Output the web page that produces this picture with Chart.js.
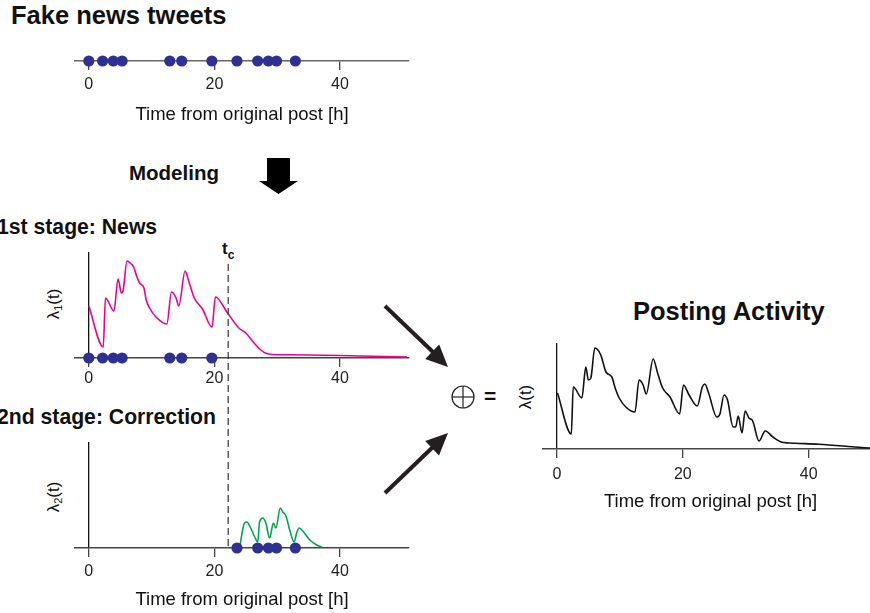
<!DOCTYPE html>
<html>
<head>
<meta charset="utf-8">
<script src="https://cdn.jsdelivr.net/npm/chart.js@4.4.0/dist/chart.umd.min.js"></script>
<style>
html, body { margin: 0; padding: 0; background: #fff; overflow: hidden; width: 870px; height: 613px; }
body { position: relative; font-family: "Liberation Sans", Arial, Helvetica, sans-serif; color: #111; }
.box { position: absolute; }
.lbl { position: absolute; white-space: nowrap; line-height: 1; }
.b { font-weight: bold; }
.ylab { position: absolute; white-space: nowrap; line-height: 1; font-size: 17px; transform: translate(-50%, -50%) rotate(-90deg); }
.ylab sub { font-size: 11px; vertical-align: -3px; }
svg { position: absolute; left: 0; top: 0; pointer-events: none; }
</style>
</head>
<body>

<!-- textes -->
<div class="lbl b" style="left:11px; top:3px; font-size:25.5px;">Fake news tweets</div>
<div class="lbl b" style="left:129px; top:163px; font-size:20.5px;">Modeling</div>
<div class="lbl b" style="left:-3px; top:216px; font-size:21.2px;">1st stage: News</div>
<div class="lbl b" style="left:-3px; top:406px; font-size:21.2px;">2nd stage: Correction</div>
<div class="lbl b" style="left:633px; top:299px; font-size:25.5px;">Posting Activity</div>
<div class="lbl b" style="left:222px; top:240px; font-size:17px;">t<span style="font-size:12px; position:relative; top:5px;">c</span></div>
<div class="lbl b" style="left:484px; top:385px; font-size:21px;">=</div>

<div class="ylab" style="left:54px; top:304px;">λ<sub>1</sub>(t)</div>
<div class="ylab" style="left:54px; top:497px;">λ<sub>2</sub>(t)</div>
<div class="ylab" style="left:525px; top:397px;">λ(t)</div>

<!-- graphiques -->
<div class="box" style="left:0px; top:-20px;"><canvas id="tweets" width="430" height="150"></canvas></div>
<div class="box" style="left:0px; top:230px;"><canvas id="news" width="430" height="170"></canvas></div>
<div class="box" style="left:0px; top:240px;"><canvas id="corr" width="430" height="373"></canvas></div>
<div class="box" style="left:500px; top:320px;"><canvas id="total" width="400" height="293"></canvas></div>

<svg width="870" height="613">
  <polygon points="267,158 290,158 290,181 298,181 278.5,194 259,181 267,181" fill="#000"/>
  <line x1="385" y1="306" x2="434" y2="353" stroke="#231f20" stroke-width="4"/>
  <polygon points="448,367 425.2,358.9 439.2,344.5" fill="#231f20"/>
  <line x1="385" y1="493" x2="434" y2="446" stroke="#231f20" stroke-width="4"/>
  <polygon points="448,433 439,455.4 425.2,441" fill="#231f20"/>
  <circle cx="463" cy="397" r="11" fill="none" stroke="#222" stroke-width="1.2"/>
  <line x1="452" y1="397" x2="474" y2="397" stroke="#222" stroke-width="1.2"/>
  <line x1="463" y1="386" x2="463" y2="408" stroke="#222" stroke-width="1.2"/>
</svg>

<script>
// axe du temps commun a tous les panneaux
var tickVals = [0, 20, 40];
var xMin = -2.2, xMax = 51;
var tc = 22.2; // instant de la correction

// instants des tweets (heures)
var tweetTimes = [0, 2.2, 3.9, 5.3, 12.9, 14.8, 19.6, 23.6, 26.9, 28.6, 29.9, 32.9];

// 1re etape : news
var newsT = [0, 2.3, 2.65, 4.0, 4.66, 5.19, 5.45, 6.08, 6.6, 7.14, 7.67, 8.1, 8.78, 9.15, 9.68, 10.7, 12.43,
  13.17, 13.9, 14.33, 15.34, 16.0, 16.8, 18.1, 19.63, 20.16, 22.1, 23.9, 25.0, 26.6, 27.4, 28.2, 29.2, 32, 40, 50.7];
var newsV = [52, 11, 60, 47, 79, 65, 67, 97, 95, 91, 81, 75, 70, 58, 50, 41, 34,
  66, 60, 52, 87, 75, 60, 49, 31, 61, 45, 30, 25, 13, 8, 4.7, 3.5, 3.2, 2.5, 1];

// 2e etape : correction
var corrT = [24.1, 24.5, 24.8, 25.2, 25.7, 26.5, 26.9, 27.2, 27.7, 28.2, 28.8, 29.4, 29.8, 30.5, 30.9, 31.4,
  32.0, 32.7, 33.1, 33.5, 34.2, 35.2, 36.3, 37.2];
var corrV = [3, 18, 25, 26, 21, 10, 6, 26, 30, 25, 10, 25, 20, 40, 36, 32,
  18, 6, 15, 20, 16, 8, 3, 0.7];

// activite totale
var totalT = [0.1, 2.3, 2.6, 3.97, 4.6, 5.0, 5.4, 6.03, 6.98, 7.4, 7.8, 8.73, 9.26, 9.9, 10.95, 12.4, 13.06,
  13.7, 14.2, 15.3, 16.0, 16.8, 17.97, 19.5, 20.1, 21.0, 22.3, 23.1, 23.5, 24.1, 25.4, 25.9, 26.55, 27.1,
  28.0, 28.4, 28.8, 29.4, 29.9, 30.5, 31.1, 32.1, 33.1, 34.3, 35.6, 36.9, 37.9, 41.6, 46.9, 49.6, 51];
var totalV = [56, 15, 62, 51, 82, 69, 71, 101, 94, 85, 77, 72, 61, 51, 42, 37, 69,
  64, 55, 90, 76, 61, 52, 35, 64, 54, 43, 62, 65, 56, 32, 35, 54, 49,
  22, 22, 33, 16, 38, 31, 28, 8, 18, 12, 7, 6, 5.7, 4.7, 2.3, 1, 0.6];

Chart.defaults.font.family = "'Liberation Sans', Arial, Helvetica, sans-serif";
Chart.defaults.color = "#222";

function pts(ts, vs) {
  return ts.map(function (t, i) { return { x: t, y: vs[i] }; });
}

function dots(ts) {
  return {
    data: ts.map(function (t) { return { x: t, y: 0 }; }),
    showLine: false,
    pointRadius: 5.6,
    pointBackgroundColor: "#2e3192",
    pointBorderWidth: 0,
    clip: false
  };
}

function curve(ts, vs, color) {
  return {
    data: pts(ts, vs),
    borderColor: color,
    borderWidth: 1.6,
    pointRadius: 0,
    cubicInterpolationMode: "monotone",
    clip: false
  };
}

// box: position du canvas, area: zone voulue (coord. page), lab/tit: ecart axe -> centre texte
function panel(id, box, area, datasets, o) {
  var tl = 9, tickSize = 16, titleSize = 18.5;
  var lh = tickSize * 1.2, lhT = titleSize * 1.2;
  var tp = o.lab - tl - lh / 2;
  var titlePad = o.tit ? Math.max(0, o.tit - tl - 2 * tp - lh - lhT / 2) : 0;
  var axisH = tl + 2 * tp + lh + (o.tit ? lhT + titlePad : 0);
  var canvas = document.getElementById(id);
  var pad = {
    left: area.left - box.left,
    right: box.left + canvas.width - area.right,
    top: area.top - box.top,
    bottom: box.top + canvas.height - area.bottom - axisH
  };
  return new Chart(canvas, {
    type: "line",
    data: { datasets: datasets },
    options: {
      responsive: false,
      animation: false,
      devicePixelRatio: 1,
      events: [],
      layout: { padding: pad },
      plugins: { legend: { display: false }, tooltip: { enabled: false } },
      scales: {
        x: {
          type: "linear",
          min: xMin,
          max: xMax,
          afterBuildTicks: function (s) { s.ticks = tickVals.map(function (v) { return { value: v }; }); },
          ticks: { padding: tp, font: { size: tickSize }, color: "#222", maxRotation: 0 },
          grid: {
            drawOnChartArea: true,
            color: function (c) { return (o.yLine && c.tick && c.tick.value === 0) ? "#111" : "rgba(0,0,0,0)"; },
            lineWidth: 1.3,
            tickColor: "#444",
            tickLength: tl
          },
          border: { display: true, color: o.axisColor || "#444", width: 1.4 },
          title: {
            display: !!o.tit,
            text: "Time from original post [h]",
            font: { size: titleSize },
            color: "#111",
            padding: { top: titlePad, bottom: 0 }
          }
        },
        y: { display: false, min: 0, max: o.yMax }
      }
    },
    plugins: o.extra ? [o.extra] : []
  });
}

// ligne pointillee t_c
var tcLine = {
  id: "tcLine",
  beforeDatasetsDraw: function (chart) {
    var x = chart.scales.x.getPixelForValue(tc);
    var c = chart.ctx;
    c.save();
    c.setLineDash([7, 4]);
    c.strokeStyle = "#333";
    c.lineWidth = 1.2;
    c.beginPath();
    c.moveTo(x, 24);
    c.lineTo(x, chart.chartArea.bottom);
    c.stroke();
    c.restore();
  }
};

var newsTweets = tweetTimes.filter(function (t) { return t < tc; });
var corrTweets = tweetTimes.filter(function (t) { return t > tc; });

panel("tweets", { left: 0, top: -20 }, { left: 75, right: 409, top: -20, bottom: 61 },
  [dots(tweetTimes)], { lab: 24, tit: 54, yMax: 1, yLine: false, axisColor: "#666" });

panel("news", { left: 0, top: 230 }, { left: 75, right: 409, top: 252, bottom: 358 },
  [dots(newsTweets), curve(newsT, newsV, "#ec008c")], { lab: 21, tit: 0, yMax: 106, yLine: true });

panel("corr", { left: 0, top: 240 }, { left: 75, right: 409, top: 442, bottom: 548 },
  [dots(corrTweets), curve(corrT, corrV, "#00a651")], { lab: 23.7, tit: 52, yMax: 106, yLine: true, extra: tcLine });

panel("total", { left: 500, top: 320 }, { left: 543, right: 878, top: 343, bottom: 449 },
  [curve(totalT, totalV, "#111")], { lab: 25.5, tit: 51.7, yMax: 106, yLine: true });
</script>
</body>
</html>
